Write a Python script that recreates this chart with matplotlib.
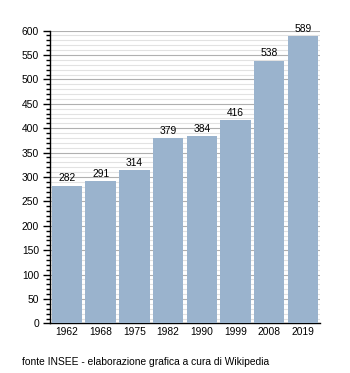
import matplotlib
matplotlib.use("Agg")
import matplotlib.pyplot as plt
from matplotlib.ticker import MultipleLocator

# Popolazione per anno di censimento
anni = ["1962", "1968", "1975", "1982", "1990", "1999", "2008", "2019"]
abitanti = [282, 291, 314, 379, 384, 416, 538, 589]

plt.rcParams["font.family"] = ["Liberation Sans", "DejaVu Sans"]
plt.rcParams["font.size"] = 7.4

fig = plt.figure(figsize=(3.5, 3.73), dpi=100)
ax = fig.add_axes([0.143, 0.133, 0.771, 0.785])

x = list(range(len(anni)))
bars = ax.bar(x, abitanti, width=0.9, color="#9ab3cd", zorder=3)
for xi, v in zip(x, abitanti):
    ax.text(xi, v + 5, str(v), ha="center", va="bottom", zorder=4)

ax.set_xlim(-0.5, len(anni) - 0.5)
ax.set_ylim(0, 600)
ax.set_xticks(x)
ax.set_xticklabels(anni)
ax.yaxis.set_major_locator(MultipleLocator(50))
ax.yaxis.set_minor_locator(MultipleLocator(10))
ax.grid(axis="y", which="major", color="#b0b0b0", linewidth=0.8, zorder=1)
ax.grid(axis="y", which="minor", color="#e2e2e2", linewidth=0.8, zorder=0)

for s in ("top", "right"):
    ax.spines[s].set_visible(False)
ax.spines["left"].set_linewidth(1.0)
ax.spines["bottom"].set_linewidth(1.0)
ax.tick_params(axis="x", length=0, pad=2.5)
ax.tick_params(axis="y", which="major", length=5, width=1.0, pad=3)
ax.tick_params(axis="y", which="minor", length=3, width=1.0)

fig.text(0.063, 0.03, "fonte INSEE - elaborazione grafica a cura di Wikipedia",
         ha="left", va="center")

fig.savefig("out.png", dpi=100)
